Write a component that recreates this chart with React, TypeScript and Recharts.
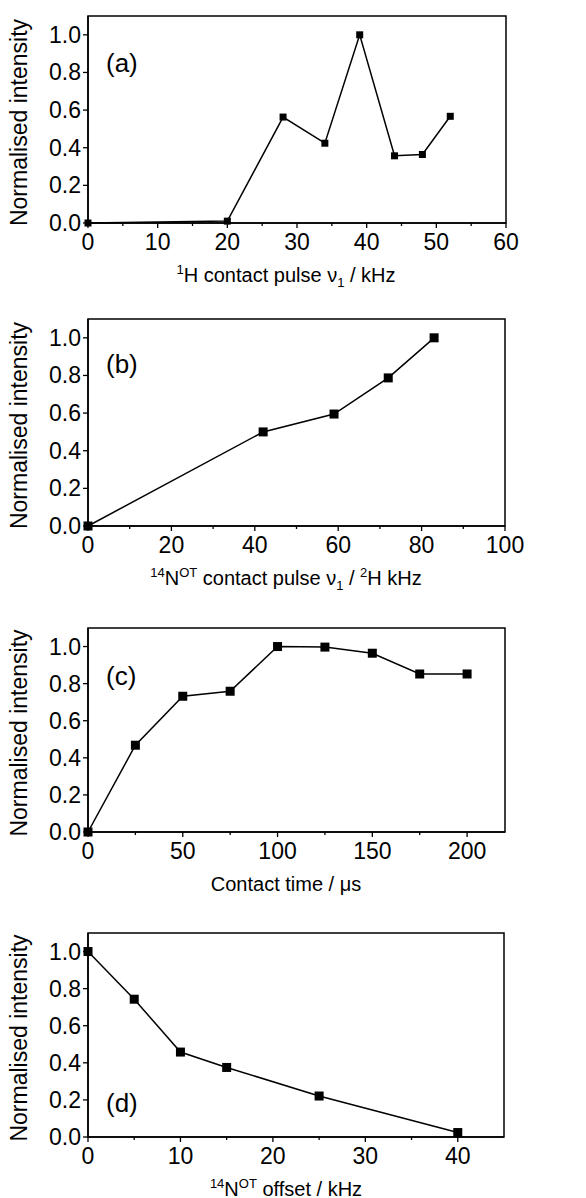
import React from "react"
import { LineChart, Line, XAxis, YAxis, ReferenceArea } from "recharts"

// Vier Panels (a)-(d), normierte Intensität gegen Kontakt-Parameter.

const FONT = "'Liberation Sans', Arial, sans-serif"

// (a) 1H contact pulse
const pulseH = [0, 20, 28, 34, 39, 44, 48, 52]
const intensityA = [0, 0.01, 0.563, 0.424, 1.0, 0.357, 0.364, 0.567]
const majorA = [0, 10, 20, 30, 40, 50, 60]
const minorA = [5, 15, 25, 35, 45, 55]

// (b) 14N contact pulse
const pulseN = [0, 42, 59, 72, 83]
const intensityB = [0, 0.5, 0.595, 0.787, 1.0]
const majorB = [0, 20, 40, 60, 80, 100]
const minorB = [10, 30, 50, 70, 90]

// (c) contact time
const contactTime = [0, 25, 50, 75, 100, 125, 150, 175, 200]
const intensityC = [0, 0.468, 0.732, 0.759, 1.0, 0.997, 0.964, 0.852, 0.852]
const majorC = [0, 50, 100, 150, 200]
const minorC = [25, 75, 125, 175]

// (d) 14N offset
const offsetN = [0, 5, 10, 15, 25, 40]
const intensityD = [1.0, 0.743, 0.458, 0.375, 0.221, 0.024]
const majorD = [0, 10, 20, 30, 40]
const minorD = [5, 15, 25, 35]

const yTicks = [0, 0.2, 0.4, 0.6, 0.8, 1.0]

function XTick(props: any) {
  const { x, y, payload, major } = props
  const isMajor = major.includes(payload.value)
  return (
    <g>
      <line x1={x} x2={x} y1={y} y2={y + (isMajor ? 5 : 3)} stroke="#000" strokeWidth={1.3} />
      {isMajor && (
        <text x={x} y={y + 27} textAnchor="middle" fontSize={23} fontFamily={FONT} fill="#000">
          {payload.value}
        </text>
      )}
    </g>
  )
}

function YTick(props: any) {
  const { x, y, payload } = props
  return (
    <g>
      <line x1={x - 5} x2={x} y1={y} y2={y} stroke="#000" strokeWidth={1.3} />
      <text x={x - 7} y={y + 8} textAnchor="end" fontSize={23} fontFamily={FONT} fill="#000">
        {payload.value.toFixed(1)}
      </text>
    </g>
  )
}

function XTitle({ ty, parts }: { ty: number; parts: React.ReactNode }) {
  return (
    <text x={286} y={ty} textAnchor="middle" fontSize={20} fontFamily={FONT} fill="#000">
      {parts}
    </text>
  )
}

function YTitle({ cy }: { cy: number }) {
  return (
    <text
      x={27}
      y={cy}
      transform={`rotate(-90, 27, ${cy})`}
      textAnchor="middle"
      fontSize={23}
      fontFamily={FONT}
      fill="#000"
    >
      Normalised intensity
    </text>
  )
}

const sup = (s: string) => (
  <tspan fontSize={13} dy={-8}>
    {s}
  </tspan>
)

type PanelProps = {
  xs: number[]
  ys: number[]
  xMax: number
  major: number[]
  minor: number[]
  top: number
  plotH: number
  right: number
  tag: string
  tagY: number
  dotSize: number
  title: React.ReactNode
}

function Panel(p: PanelProps) {
  const data = p.xs.map((x, i) => ({ x, y: p.ys[i] }))
  const padTop = 10
  const axisH = 75
  const h = padTop + p.plotH + axisH
  const plotBottom = padTop + p.plotH
  const ticks = [...p.major, ...p.minor].sort((a, b) => a - b)
  const s = p.dotSize
  return (
    <div style={{ position: "absolute", left: 0, top: p.top - padTop }}>
      <LineChart
        width={586}
        height={h}
        data={data}
        margin={{ top: padTop, right: 586 - p.right, bottom: 0, left: 0 }}
      >
        <XAxis
          type="number"
          dataKey="x"
          domain={[0, p.xMax]}
          ticks={ticks}
          interval={0}
          height={axisH}
          tickLine={false}
          tickSize={0}
          tickMargin={0}
          axisLine={{ stroke: "#000", strokeWidth: 1.5 }}
          tick={<XTick major={p.major} />}
          label={<XTitle ty={plotBottom + 59} parts={p.title} />}
        />
        <YAxis
          type="number"
          domain={[0, 1.1]}
          ticks={yTicks}
          interval={0}
          width={88}
          tickLine={false}
          tickSize={0}
          tickMargin={0}
          axisLine={{ stroke: "#000", strokeWidth: 1.5 }}
          tick={<YTick />}
          label={<YTitle cy={padTop + p.plotH / 2 + 3} />}
        />
        <ReferenceArea x1={0} x2={p.xMax} y1={0} y2={1.1} fill="none" stroke="#000" strokeWidth={1.5} />
        <Line
          type="linear"
          dataKey="y"
          stroke="#000"
          strokeWidth={1.5}
          isAnimationActive={false}
          dot={(d: any) => (
            <rect key={d.index} x={d.cx - s / 2} y={d.cy - s / 2} width={s} height={s} fill="#000" />
          )}
        />
      </LineChart>
      <div
        style={{
          position: "absolute",
          left: 106,
          top: p.tagY - (p.top - padTop) - 22,
          fontSize: 26,
          lineHeight: "26px",
          fontFamily: FONT,
          color: "#000",
          whiteSpace: "nowrap",
        }}
      >
        {p.tag}
      </div>
    </div>
  )
}

export default function App() {
  return (
    <div style={{ position: "absolute", left: 0, top: 0, width: 586, height: 1198, background: "#fff" }}>
      <Panel
        xs={pulseH}
        ys={intensityA}
        xMax={60}
        major={majorA}
        minor={minorA}
        top={16}
        plotH={207}
        right={506}
        tag="(a)"
        tagY={72}
        dotSize={7}
        title={
          <>
            {sup("1")}
            <tspan dy={8}>H contact pulse ν</tspan>
            <tspan fontSize={13} dy={5}>1</tspan>
            <tspan dy={-5}> / kHz</tspan>
          </>
        }
      />
      <Panel
        xs={pulseN}
        ys={intensityB}
        xMax={100}
        major={majorB}
        minor={minorB}
        top={319}
        plotH={207}
        right={505}
        tag="(b)"
        tagY={373}
        dotSize={9}
        title={
          <>
            {sup("14")}
            <tspan dy={8}>N</tspan>
            {sup("OT")}
            <tspan dy={8}> contact pulse ν</tspan>
            <tspan fontSize={13} dy={5}>1</tspan>
            <tspan dy={-5}> / </tspan>
            {sup("2")}
            <tspan dy={8}>H kHz</tspan>
          </>
        }
      />
      <Panel
        xs={contactTime}
        ys={intensityC}
        xMax={220}
        major={majorC}
        minor={minorC}
        top={628}
        plotH={204}
        right={505}
        tag="(c)"
        tagY={685}
        dotSize={9}
        title={<tspan>Contact time / μs</tspan>}
      />
      <Panel
        xs={offsetN}
        ys={intensityD}
        xMax={45}
        major={majorD}
        minor={minorD}
        top={933}
        plotH={204}
        right={504}
        tag="(d)"
        tagY={1112}
        dotSize={9}
        title={
          <>
            {sup("14")}
            <tspan dy={8}>N</tspan>
            {sup("OT")}
            <tspan dy={8}> offset / kHz</tspan>
          </>
        }
      />
    </div>
  )
}
